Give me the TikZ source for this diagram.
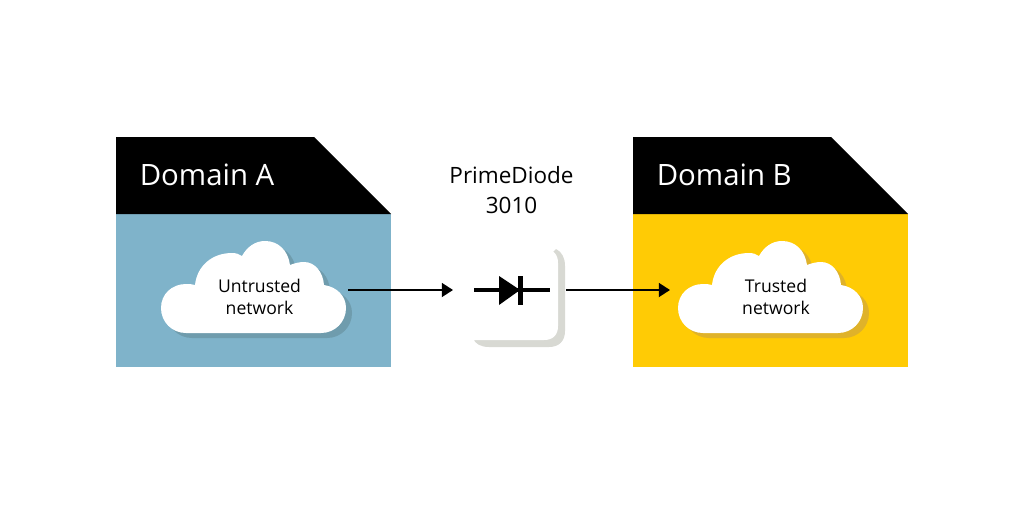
\documentclass[tikz,border=0pt]{standalone}
\usepackage{fontspec}
\setmainfont{Open Sans}
\usetikzlibrary{arrows.meta}
\pgfdeclarelayer{bg}
\pgfsetlayers{bg,main}
\definecolor{domainblue}{HTML}{7FB3CA}
\definecolor{shadeblue}{HTML}{6F9CAD}
\definecolor{domainyellow}{HTML}{FFCB05}
\definecolor{shadeyellow}{HTML}{DFB22A}
\definecolor{shadegrey}{HTML}{D8D9D3}
\tikzset{
	title/.style={anchor=west,text=white,font=\fontsize{20.9}{25}\selectfont,inner sep=0pt},
	cloudtext/.style={align=center,font=\fontsize{12.5}{15.6}\selectfont,inner sep=0pt},
	devicetext/.style={align=center,font=\fontsize{16}{21.5}\selectfont,inner sep=0pt},
	link/.style={line width=1.2pt,-{Triangle[length=8pt,width=10pt]},shorten >=0pt},
	wire/.style={line width=2.9pt},
}
% the cloud outline, in page pixels of the left cloud
\newcommand{\cloudoutline}{
	(186,333) .. controls (172,333) and (161,322) .. (161,308)
	.. controls (161,294) and (172,284) .. (186,284)
	.. controls (189,284) and (192,284) .. (195,285)
	.. controls (197,266) and (212,253) .. (232,253)
	.. controls (236,253) and (239,254) .. (242,256)
	.. controls (247,247) and (255,241) .. (265,241)
	.. controls (278,241) and (288,250) .. (290,265)
	.. controls (295,263) and (300,262) .. (304,262)
	.. controls (315,262) and (323,272) .. (324,285)
	.. controls (337,287) and (346,296) .. (346,308)
	.. controls (346,322) and (335,333) .. (321,333) -- cycle
}
\begin{document}
\begin{tikzpicture}[x=0.025cm,y=-0.025cm]
	\useasboundingbox (0,0) rectangle (1024,512);
	\begin{pgfonlayer}{bg}
		\fill [white] (0,0) rectangle (1024,512);
		% domain A
		\fill [domainblue] (116,214) rectangle (391,367);
		\fill [black] (116,137) -- (314,137) -- (391,214) -- (116,214) -- cycle;
		\fill [shadeblue, shift={(6,5)}] \cloudoutline;
		\fill [white] \cloudoutline;
		% domain B
		\fill [domainyellow] (633,214) rectangle (908,367);
		\fill [black] (633,137) -- (831,137) -- (908,214) -- (633,214) -- cycle;
		\fill [shadeyellow, shift={(523,5)}] \cloudoutline;
		\fill [white, shift={(517,0)}] \cloudoutline;
		% diode box
		\fill [shadegrey] (556,249) .. controls (562,252) and (565,258) .. (565,266)
			-- (565,331) .. controls (565,341) and (559,347) .. (549,347)
			-- (489,347) .. controls (481,347) and (475,344) .. (473,338) -- cycle;
		\fill [white] (473,249) -- (544,249) .. controls (553,249) and (558,254) .. (558,263)
			-- (558,326) .. controls (558,335) and (553,340) .. (544,340)
			-- (473,340) -- cycle;
	\end{pgfonlayer}
	\node (titleA) [title] at (139.5,175) {Domain A};
	\node (titleB) [title] at (656.5,175) {Domain B};
	\node (untrusted) [cloudtext] at (259.5,297) {Untrusted\\network};
	\node (trusted) [cloudtext] at (776,297) {Trusted\\network};
	\node (device) [devicetext] at (511.5,190) {PrimeDiode\\3010};
	\coordinate (cloudA) at (348,290);
	\coordinate (diodeIn) at (453,290);
	\coordinate (diodeOut) at (566,290);
	\coordinate (cloudB) at (670,290);
	\coordinate (wireL) at (474,290);
	\coordinate (wireR) at (550,290);
	\draw [link] (cloudA) -- (diodeIn);
	\draw [link] (diodeOut) -- (cloudB);
	\draw [wire] (wireL) -- (wireR);
	\fill [black] (499,276) -- (520,290) -- (499,305) -- cycle;
	\fill [black] (517.5,276) rectangle (522.5,304.5);
\end{tikzpicture}
\end{document}
